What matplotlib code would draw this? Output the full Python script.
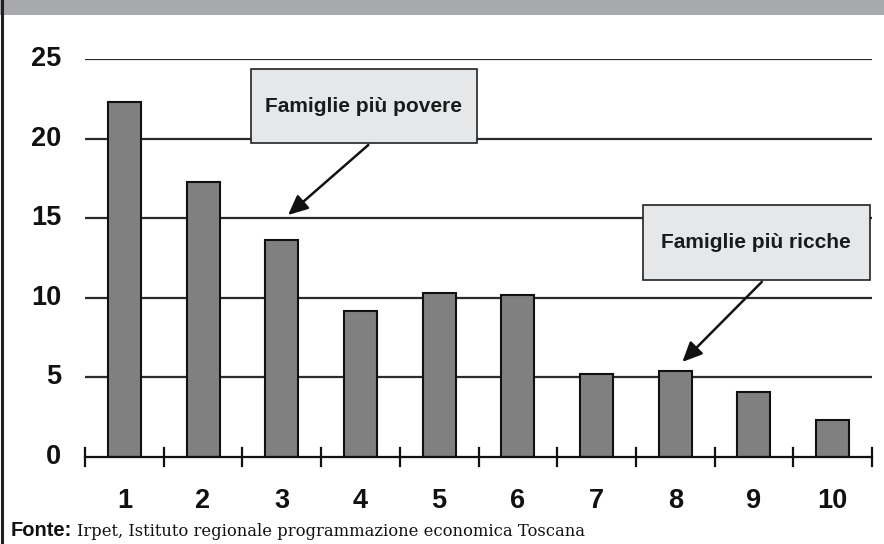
import matplotlib
matplotlib.use("Agg")
import matplotlib.pyplot as plt
from matplotlib.patches import Rectangle
from matplotlib.lines import Line2D

# Share of families by income decile
deciles = ["1", "2", "3", "4", "5", "6", "7", "8", "9", "10"]
values = [22.3, 17.3, 13.6, 9.2, 10.3, 10.2, 5.2, 5.4, 4.1, 2.3]
y_ticks = [0, 5, 10, 15, 20, 25]

W, H = 884, 544
fig = plt.figure(figsize=(W / 100, H / 100), dpi=100)
fig.patch.set_facecolor("white")

# header band and left rule
fig.add_artist(Rectangle((0, 1 - 15 / H), 1, 15 / H, transform=fig.transFigure,
                         facecolor="#a7a9ac", edgecolor="none", zorder=0))
fig.add_artist(Line2D([1.5 / W, 1.5 / W], [0, 1], transform=fig.transFigure,
                      color="#231f20", lw=2.2))

x0, x1 = 85, 872
y0, y1 = 457, 59
ax = fig.add_axes([x0 / W, 1 - y0 / H, (x1 - x0) / W, (y0 - y1) / H])
ax.set_xlim(0.5, 10.5)
ax.set_ylim(0, 25)
for s in ax.spines.values():
    s.set_visible(False)

xs = list(range(1, len(values) + 1))

# horizontal grid lines
for t in y_ticks[1:]:
    ax.axhline(t, color="#2b2b2b", lw=1.6, zorder=1)

ax.bar(xs, values, width=0.42, color="#808080", edgecolor="#111111",
       linewidth=1.5, zorder=2)

# x axis with boundary ticks crossing it
ax.axhline(0, color="#111111", lw=1.6, zorder=3, clip_on=False)
for b in [i + 0.5 for i in range(0, len(values) + 1)]:
    ax.plot([b, b], [-0.55, 0.55], color="#111111", lw=1.6, zorder=3,
            clip_on=False)

ax.set_xticks([])
ax.set_yticks([])
tick_font = dict(family="Liberation Sans", fontweight="bold", fontsize=19.5,
                 color="#111111")
for x, lab in zip(xs, deciles):
    ax.text(x, -2.75, lab, ha="center", va="center", **tick_font)
for t in y_ticks:
    ax.text(0.2, t, str(t), ha="right", va="center", **tick_font)

# callout boxes with arrows
def callout(box, label, start, tip):
    (bx0, by0, bx1, by1) = box
    ax.add_patch(Rectangle((bx0, by0), bx1 - bx0, by1 - by0,
                           facecolor="#e6e7e8", edgecolor="#222222",
                           lw=1.2, zorder=4, clip_on=False))
    ax.text((bx0 + bx1) / 2, (by0 + by1) / 2, label, ha="center",
            va="center", family="Liberation Sans", fontweight="bold",
            fontsize=15, color="#1a1a1a", zorder=5)
    ax.annotate("", xy=tip, xytext=start,
                arrowprops=dict(arrowstyle="-|>,head_length=1.2,head_width=0.55",
                                color="#111111", lw=1.8, shrinkA=0, shrinkB=0),
                zorder=5)

callout((2.61, 19.72, 5.48, 24.37), "Famiglie più povere",
        (4.1, 19.6), (3.08, 15.2))
callout((7.59, 11.12, 10.47, 15.83), "Famiglie più ricche",
        (9.1, 11.0), (8.09, 5.97))

# source line
t1 = fig.text(11 / W, 1 - 531 / H, "Fonte:", family="Liberation Sans",
              fontweight="bold", fontsize=14.5, va="center", ha="left",
              color="#111111")
fig.canvas.draw()
bb = t1.get_window_extent()
fig.text(bb.x1 / W + 5 / W, 1 - 531 / H,
         "Irpet, Istituto regionale programmazione economica Toscana",
         family="DejaVu Serif", fontsize=11.75, va="center", ha="left",
         color="#111111")

fig.savefig("out.png", dpi=100)
